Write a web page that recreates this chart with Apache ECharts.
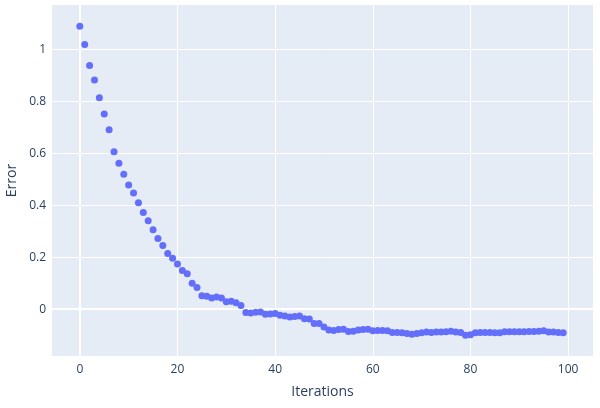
<!DOCTYPE html>
<html><head><meta charset="utf-8">
<script src="https://cdn.jsdelivr.net/npm/echarts@6/dist/echarts.min.js"></script>
<style>html,body{margin:0;padding:0;background:#fff}#c{width:600px;height:408px}</style>
</head><body><div id="c"></div>
<script>
const errors = [1.088,1.018,0.937,0.882,0.813,0.751,0.690,0.606,0.561,0.519,
0.478,0.447,0.409,0.372,0.340,0.306,0.272,0.245,0.214,0.196,
0.174,0.149,0.136,0.100,0.083,0.052,0.050,0.043,0.047,0.043,
0.029,0.031,0.025,0.014,-0.013,-0.015,-0.012,-0.011,-0.019,-0.018,
-0.017,-0.023,-0.026,-0.030,-0.028,-0.026,-0.037,-0.038,-0.055,-0.055,
-0.068,-0.080,-0.082,-0.078,-0.077,-0.086,-0.085,-0.080,-0.078,-0.077,
-0.083,-0.082,-0.082,-0.083,-0.090,-0.090,-0.091,-0.093,-0.096,-0.093,
-0.091,-0.088,-0.090,-0.088,-0.088,-0.087,-0.085,-0.088,-0.090,-0.100,
-0.098,-0.091,-0.090,-0.090,-0.090,-0.091,-0.091,-0.087,-0.087,-0.087,
-0.087,-0.087,-0.086,-0.086,-0.085,-0.083,-0.088,-0.088,-0.090,-0.091];
const xTicks = [0,20,40,60,80,100];
const yTicks = [0,0.2,0.4,0.6,0.8,1];
const data = errors.map((v,i)=>[i,v]);
const txt = '#2a3f5f';
const gridLines = [
  ...xTicks.map(v=>({xAxis:v, lineStyle:{width: v===0?2:1}})),
  ...yTicks.map(v=>({yAxis:v, lineStyle:{width: v===0?2:1}}))
];
const chart = echarts.init(document.getElementById('c'));
chart.setOption({
  animation:false,
  grid:{left:52,right:7,top:5,bottom:52,show:true,backgroundColor:'#E5ECF6',borderWidth:0,
    containLabel:false,outerBoundsMode:'none'},
  xAxis:{type:'value',min:-5.7,max:105.1,name:'Iterations',nameLocation:'middle',nameGap:29,
    nameMoveOverlap:false,
    nameTextStyle:{color:txt,fontSize:14,fontFamily:'Open Sans'},
    axisLine:{show:false},axisTick:{show:false},splitLine:{show:false},
    axisLabel:{customValues:xTicks,color:txt,fontSize:12,fontFamily:'Open Sans',margin:8}},
  yAxis:{type:'value',min:-0.18,max:1.17,name:'Error',nameLocation:'middle',nameGap:33,
    nameMoveOverlap:false,
    nameTextStyle:{color:txt,fontSize:14,fontFamily:'Open Sans'},
    axisLine:{show:false},axisTick:{show:false},splitLine:{show:false},
    axisLabel:{customValues:yTicks,color:txt,fontSize:12,fontFamily:'Open Sans',margin:6,
      formatter:v=>String(Math.round(v*10)/10)}},
  series:[{type:'scatter',data:data,symbolSize:7,itemStyle:{color:'#636EFA',opacity:1},
    z:3,
    markLine:{silent:true,symbol:'none',label:{show:false},z:1,
      lineStyle:{color:'#ffffff',type:'solid'},data:gridLines}}]
});
</script></body></html>
